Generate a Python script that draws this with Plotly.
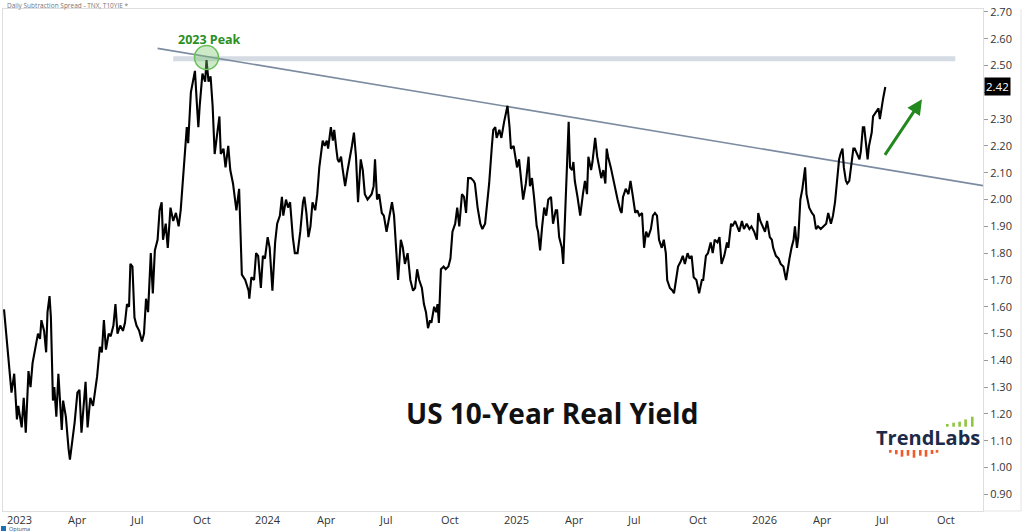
import plotly.graph_objects as go
import pandas as pd

# ---------------- data ----------------
start_date = pd.Timestamp("2023-01-01")

# calendar-day offsets from start_date
day_offsets = [
    0, 4, 8, 11, 15, 19, 21, 26, 29, 32,
    36, 39, 42, 46, 50, 53, 55, 59, 62, 64,
    67, 69, 72, 74, 77, 80, 82, 85, 87, 91,
    95, 97, 101, 104, 108, 111, 114, 117, 120, 123,
    127, 131, 134, 137, 141, 144, 147, 150, 154, 157,
    161, 164, 167, 171, 175, 178, 181, 184, 186, 189,
    192, 195, 199, 203, 206, 209, 212, 216, 219, 222,
    226, 229, 232, 234, 238, 241, 245, 249, 253, 257,
    260, 263, 266, 269, 271, 275, 278, 281, 284, 286,
    288, 292, 296, 298, 301, 304, 307, 310, 313, 317,
    319, 323, 326, 330, 333, 337, 342, 346, 350, 355,
    360, 361, 364, 368, 371, 374, 378, 381, 384, 388,
    391, 395, 399, 402, 406, 409, 411, 415, 418, 421,
    425, 428, 432, 436, 440, 442, 445, 448, 451, 454,
    458, 461, 464, 466, 469, 472, 475, 477, 481, 484,
    486, 489, 491, 493, 496, 498, 502, 505, 509, 512,
    515, 518, 521, 525, 528, 531, 535, 538, 541, 544,
    546, 549, 552, 556, 559, 563, 567, 571, 574, 577,
    580, 584, 587, 590, 594, 598, 602, 605, 608, 611,
    615, 618, 621, 624, 627, 629, 633, 636, 638, 640,
    643, 647, 650, 654, 657, 660, 664, 667, 670, 674,
    677, 680, 683, 687, 691, 693, 697, 701, 704, 708,
    711, 714, 718, 720, 723, 725, 729, 732, 736, 739,
    741, 744, 746, 750, 753, 755, 758, 762, 764, 768,
    772, 774, 777, 780, 784, 786, 789, 792, 795, 798,
    801, 805, 808, 812, 814, 817, 821, 823, 826, 829,
    831, 833, 836, 838, 840, 844, 848, 852, 855, 858,
    860, 864, 866, 870, 873, 876, 879, 882, 885, 887,
    889, 893, 896, 899, 903, 907, 909, 911, 915, 919,
    922, 925, 929, 932, 935, 939, 942, 945, 948, 952,
    955, 958, 961, 964, 968, 971, 974, 976, 980, 984,
    986, 989, 992, 996, 999, 1002, 1006, 1009, 1012, 1015,
    1019, 1023, 1027, 1029, 1033, 1036, 1040, 1043, 1046, 1050,
    1053, 1056, 1060, 1064, 1066, 1070, 1072, 1076, 1079, 1082,
    1086, 1089, 1093, 1097, 1100, 1104, 1108, 1110, 1113, 1117,
    1120, 1123, 1127, 1130, 1132, 1136, 1140, 1143, 1147, 1151,
    1153, 1156, 1159, 1162, 1164, 1167, 1169, 1172, 1175, 1179,
    1181, 1185, 1189, 1192, 1195, 1198, 1202, 1206, 1210, 1213,
    1217, 1220, 1223, 1226, 1229, 1231, 1234, 1236, 1239, 1241,
    1244, 1248, 1250, 1252, 1256, 1259, 1261, 1264, 1266, 1269,
    1271, 1273, 1277, 1279, 1282, 1284, 1287, 1289, 1292, 1294, 1297,
]

real_yield = [
    1.59, 1.48, 1.35, 1.28, 1.35, 1.18, 1.23, 1.15, 1.26, 1.13,
    1.36, 1.30, 1.39, 1.44, 1.50, 1.48, 1.55, 1.51, 1.43, 1.58,
    1.64, 1.56, 1.25, 1.30, 1.19, 1.35, 1.28, 1.14, 1.25, 1.19,
    1.07, 1.03, 1.11, 1.17, 1.28, 1.29, 1.13, 1.23, 1.32, 1.15,
    1.26, 1.23, 1.28, 1.34, 1.45, 1.43, 1.55, 1.44, 1.50, 1.49,
    1.53, 1.61, 1.50, 1.53, 1.51, 1.54, 1.61, 1.60, 1.76, 1.75,
    1.56, 1.53, 1.51, 1.47, 1.50, 1.63, 1.58, 1.80, 1.65, 1.81,
    1.85, 1.96, 1.99, 1.85, 1.91, 1.82, 1.97, 1.92, 1.95, 1.90,
    1.96, 2.07, 2.19, 2.27, 2.21, 2.40, 2.44, 2.48, 2.35, 2.27,
    2.35, 2.47, 2.44, 2.52, 2.44, 2.46, 2.35, 2.17, 2.23, 2.31,
    2.17, 2.19, 2.12, 2.20, 2.11, 2.06, 1.96, 2.04, 1.72, 1.70,
    1.66, 1.63, 1.71, 1.70, 1.80, 1.79, 1.67, 1.79, 1.78, 1.86,
    1.82, 1.66, 1.84, 1.91, 1.94, 2.01, 1.94, 2.00, 1.97, 1.99,
    1.86, 1.80, 1.80, 1.88, 1.99, 2.01, 1.95, 1.86, 1.90, 1.99,
    1.96, 2.02, 2.12, 2.16, 2.22, 2.20, 2.22, 2.19, 2.27, 2.22,
    2.26, 2.19, 2.15, 2.14, 2.16, 2.12, 2.05, 2.10, 2.15, 2.20,
    2.25, 2.16, 1.99, 2.15, 2.11, 2.02, 2.00, 2.01, 2.02, 2.05,
    2.15, 2.00, 2.02, 1.95, 1.94, 1.88, 1.94, 1.99, 1.94, 1.82,
    1.70, 1.85, 1.82, 1.76, 1.80, 1.70, 1.66, 1.67, 1.74, 1.70,
    1.67, 1.61, 1.58, 1.52, 1.55, 1.54, 1.60, 1.58, 1.61, 1.54,
    1.74, 1.75, 1.74, 1.75, 1.78, 1.88, 1.91, 1.97, 1.90, 2.02,
    2.01, 1.95, 2.08, 2.08, 2.07, 2.06, 1.97, 1.91, 1.89, 1.91,
    1.99, 2.06, 2.20, 2.26, 2.27, 2.23, 2.26, 2.23, 2.29, 2.32,
    2.35, 2.27, 2.19, 2.20, 2.14, 2.12, 2.15, 2.06, 2.00, 2.06,
    2.16, 2.05, 2.08, 2.01, 1.90, 1.88, 1.81, 1.90, 1.97, 1.94,
    2.00, 2.01, 1.91, 1.96, 1.96, 1.86, 1.82, 1.76, 1.95, 2.20,
    2.29, 2.12, 2.11, 2.14, 2.07, 2.01, 1.94, 2.02, 2.07, 2.02,
    2.16, 2.11, 2.14, 2.23, 2.16, 2.12, 2.08, 2.11, 2.06, 2.19,
    2.16, 2.12, 2.08, 2.04, 2.00, 1.96, 1.95, 2.01, 2.04, 2.02,
    2.07, 2.02, 1.95, 1.96, 1.94, 1.95, 1.82, 1.88, 1.86, 1.89,
    1.94, 1.95, 1.94, 1.85, 1.82, 1.85, 1.80, 1.70, 1.67, 1.66,
    1.65, 1.70, 1.75, 1.77, 1.79, 1.76, 1.80, 1.78, 1.79, 1.71,
    1.70, 1.65, 1.70, 1.70, 1.79, 1.80, 1.84, 1.80, 1.85, 1.84,
    1.86, 1.76, 1.79, 1.84, 1.82, 1.91, 1.90, 1.92, 1.90, 1.88,
    1.92, 1.89, 1.91, 1.89, 1.90, 1.88, 1.85, 1.95, 1.92, 1.90,
    1.88, 1.92, 1.86, 1.85, 1.82, 1.79, 1.78, 1.76, 1.75, 1.70,
    1.74, 1.78, 1.82, 1.85, 1.90, 1.82, 1.86, 2.00, 2.04, 2.12,
    2.02, 1.97, 1.95, 1.94, 1.89, 1.90, 1.89, 1.90, 1.91, 1.95,
    1.91, 1.94, 1.99, 2.07, 2.15, 2.17, 2.19, 2.12, 2.07, 2.06,
    2.07, 2.15, 2.19, 2.19, 2.17, 2.15, 2.18, 2.27, 2.27, 2.20,
    2.15, 2.20, 2.25, 2.31, 2.32, 2.33, 2.34, 2.30, 2.36, 2.38, 2.42,
]
assert len(day_offsets) == len(real_yield)
dates = start_date + pd.to_timedelta(day_offsets, unit="D")

x_tick_dates = ["2023-01-01", "2023-04-01", "2023-07-01", "2023-10-01",
                "2024-01-01", "2024-04-01", "2024-07-01", "2024-10-01",
                "2025-01-01", "2025-04-01", "2025-07-01", "2025-10-01",
                "2026-01-01", "2026-04-01", "2026-07-01", "2026-10-01"]
x_tick_labels = ["2023", "Apr", "Jul", "Oct", "2024", "Apr", "Jul", "Oct",
                 "2025", "Apr", "Jul", "Oct", "2026", "Apr", "Jul", "Oct"]
y_tick_values = [0.90, 1.00, 1.10, 1.20, 1.30, 1.40, 1.50, 1.60, 1.70, 1.80,
                 1.90, 2.00, 2.10, 2.20, 2.30, 2.40, 2.50, 2.60, 2.70]

# annotations / overlays (data terms)
trend_dates = ["2023-08-15", "2026-12-11 19:00"]
trend_values = [2.564, 2.052]
peak_band = {"start": "2023-09-07", "end": "2026-11-01", "low": 2.516, "high": 2.535}
peak_date, peak_value = "2023-10-26", 2.53
arrow_tail = ("2026-07-19", 2.161)
arrow_head = ("2026-09-13", 2.374)
last_value = real_yield[-1]

x_range = ["2022-12-30 12:00", "2026-12-11 19:00"]
y_range = [0.838, 2.711]

# ---------------- figure ----------------
FONT = "Open Sans"
fig = go.Figure()

fig.add_trace(go.Scatter(
    x=trend_dates, y=trend_values, mode="lines",
    line=dict(color="#7b8ba0", width=1.6), hoverinfo="skip", showlegend=False))

fig.add_trace(go.Scatter(
    x=dates, y=real_yield, mode="lines",
    line=dict(color="#000000", width=2.1), showlegend=False))

# plot-area pixel helpers for decorations
L, R, T, B = 3, 983, 9, 511
def px(x):
    return (x - L) / (R - L)
def py(y):
    return (B - y) / (B - T)

shapes = [
    dict(type="rect", xref="x", yref="y", layer="below",
         x0=peak_band["start"], x1=peak_band["end"],
         y0=peak_band["low"], y1=peak_band["high"],
         fillcolor="#d5dbe3", line=dict(width=0)),
    dict(type="circle", xref="x", yref="y", xsizemode="pixel", ysizemode="pixel",
         xanchor=peak_date, yanchor=peak_value, x0=-12, x1=12, y0=-12, y1=12,
         fillcolor="rgba(120,200,110,0.38)", line=dict(color="#6cbf5c", width=1.5)),
    # right value-axis panel border
    dict(type="line", xref="paper", yref="paper", x0=px(1021), x1=px(1021),
         y0=py(511), y1=py(9), line=dict(color="#e3e3e3", width=1)),
    dict(type="line", xref="paper", yref="paper", x0=1, x1=px(1021),
         y0=0, y1=0, line=dict(color="#e3e3e3", width=1)),
]

# TrendLabs logo bars (decoration)
green_bars = [(946, 2.7), (952.3, 4), (958.3, 5), (964.3, 7.3), (971, 10)]
for gx, gh in green_bars:
    shapes.append(dict(type="rect", xref="paper", yref="paper",
                       x0=px(gx), x1=px(gx + 2.6), y0=py(426.7), y1=py(426.7 - gh),
                       fillcolor="#8dc63f", line=dict(width=0)))
orange_bars = [(889, 2.7), (895, 4.3), (900.7, 6.7), (906.7, 5.7), (912.7, 7.7),
               (919, 5.7), (924.7, 6.7), (930.7, 4), (935.7, 2.7)]
for ox, oh in orange_bars:
    shapes.append(dict(type="rect", xref="paper", yref="paper",
                       x0=px(ox), x1=px(ox + 2.6), y0=py(450), y1=py(450 + oh),
                       fillcolor="#f15a29", line=dict(width=0)))
# Optuma mini logo square
shapes.append(dict(type="rect", xref="paper", yref="paper",
                   x0=px(1), x1=px(6), y0=py(531), y1=py(526),
                   fillcolor="#1f6fb5", line=dict(width=0)))

annotations = []
for d, lab in zip(x_tick_dates, x_tick_labels):
    annotations.append(dict(x=d, y=0, xref="x", yref="paper", text=lab,
                            showarrow=False, xanchor="left", yanchor="middle",
                            xshift=1, yshift=-8.5,
                            font=dict(family=FONT, size=11, color="#333333")))

annotations += [
    dict(x=1, y=last_value, xref="paper", yref="y", text="2.42", showarrow=False,
         xanchor="left", yanchor="middle", xshift=1, bgcolor="#000000", borderpad=1,
         font=dict(family=FONT, size=11.5, color="#ffffff")),
    dict(x=peak_date, y=2.597, xref="x", yref="y", text="<b>2023 Peak</b>",
         showarrow=False, xanchor="center", yanchor="middle", xshift=3,
         font=dict(family=FONT, size=12.5, color="#2a8f1f")),
    dict(x=arrow_head[0], y=arrow_head[1], ax=arrow_tail[0], ay=arrow_tail[1],
         xref="x", yref="y", axref="x", ayref="y", text="", showarrow=True,
         arrowhead=2, arrowsize=1, arrowwidth=3, arrowcolor="#23891f"),
    dict(x=px(551.5), y=py(412.5), xref="paper", yref="paper",
         text="<b>US 10-Year Real Yield</b>", showarrow=False,
         xanchor="center", yanchor="middle",
         font=dict(family=FONT, size=28, color="#111111")),
    dict(x=px(927.5), y=py(437), xref="paper", yref="paper",
         text="<b>TrendLabs</b>", showarrow=False, xanchor="center", yanchor="middle",
         font=dict(family=FONT, size=20, color="#1c2b4a")),
    dict(x=px(5), y=py(5), xref="paper", yref="paper",
         text="Daily Subtraction Spread - TNX, T10YIE *", showarrow=False,
         xanchor="left", yanchor="middle",
         font=dict(family=FONT, size=6.5, color="#777777")),
    dict(x=px(7), y=py(528.5), xref="paper", yref="paper", text="Optuma",
         showarrow=False, xanchor="left", yanchor="middle",
         font=dict(family=FONT, size=5.5, color="#1f4f85")),
]

# the last-value box hides the 2.40 label in the reference
y_tick_text = ["" if abs(v - 2.40) < 1e-9 else f"{v:.2f}" for v in y_tick_values]

fig.update_layout(
    width=1024, height=532,
    margin=dict(l=L, r=1024 - R, t=T, b=532 - B, pad=0),
    paper_bgcolor="#ffffff", plot_bgcolor="#ffffff",
    showlegend=False,
    shapes=shapes, annotations=annotations,
    xaxis=dict(type="date", range=x_range, showticklabels=False, ticks="",
               showgrid=False, zeroline=False, showline=True, mirror=True,
               linecolor="#dedede", linewidth=1),
    yaxis=dict(side="right", range=y_range, tickmode="array",
               tickvals=y_tick_values, ticktext=y_tick_text,
               ticks="outside", ticklen=4, tickcolor="#9a9a9a",
               tickfont=dict(family=FONT, size=11, color="#333333"),
               showgrid=False, zeroline=False, showline=True, mirror=True,
               linecolor="#dedede", linewidth=1),
)

fig.write_html("out.html")
